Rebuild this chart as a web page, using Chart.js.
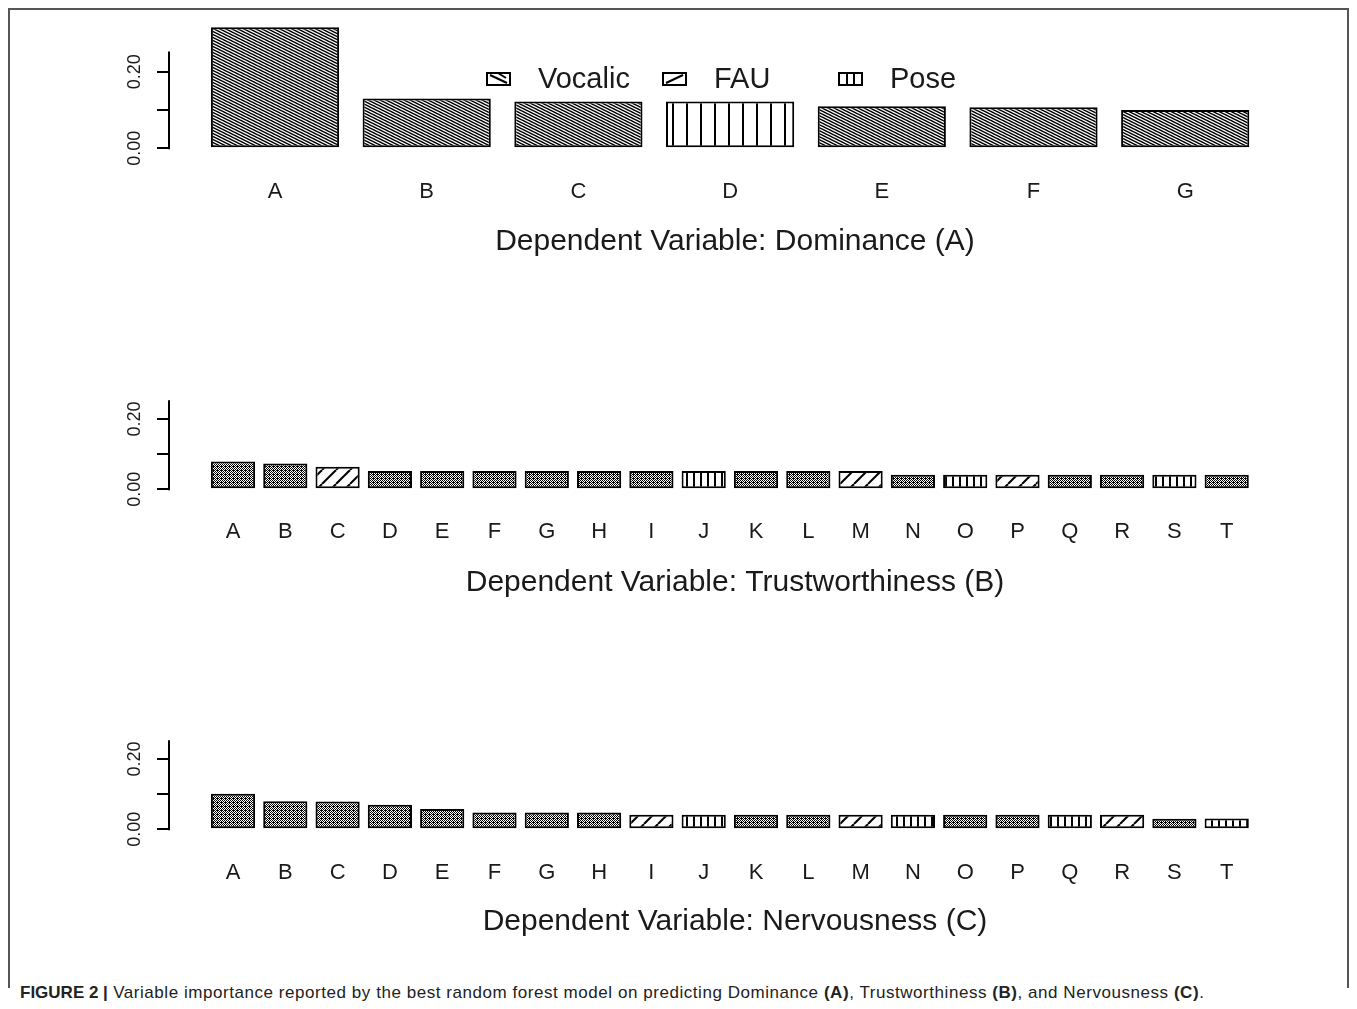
<!DOCTYPE html>
<html>
<head>
<meta charset="utf-8">
<script src="https://cdn.jsdelivr.net/npm/chart.js@4.4.0/dist/chart.umd.min.js"></script>
<style>
html,body{margin:0;padding:0;background:#fff;}
body{width:1357px;height:1009px;position:relative;overflow:hidden;font-family:"Liberation Sans",Arial,sans-serif;}
canvas{position:absolute;left:0;}
#frame{position:absolute;left:8px;top:8px;width:1341px;height:980px;border:2px solid #555;border-bottom:none;box-sizing:border-box;}
#caption{position:absolute;left:20px;top:983px;font-size:17px;line-height:20px;color:#222;white-space:nowrap;}
#caption span{letter-spacing:0.55px;}
</style>
</head>
<body>
<div id="frame"></div>
<canvas id="c1"></canvas>
<canvas id="c2"></canvas>
<canvas id="c3"></canvas>
<div id="caption"><b>FIGURE 2 |</b><span> Variable importance reported by the best random forest model on predicting Dominance <b>(A)</b>, Trustworthiness <b>(B)</b>, and Nervousness <b>(C)</b>.</span></div>
<script>
// ---------- data ----------
const legendLabels = ['Vocalic', 'FAU', 'Pose'];
const yTickValues = [0, 0.05, 0.10, 0.15, 0.20, 0.25];
const yTickLabels = ['0.00', '', '', '', '0.20', ''];

const catsA = ['A', 'B', 'C', 'D', 'E', 'F', 'G'];
const valsA = [0.316, 0.130, 0.122, 0.122, 0.110, 0.107, 0.100];
const groupsA = ['Vocalic', 'Vocalic', 'Vocalic', 'Pose', 'Vocalic', 'Vocalic', 'Vocalic'];
const titleA = 'Dependent Variable: Dominance (A)';

const catsB = ['A','B','C','D','E','F','G','H','I','J','K','L','M','N','O','P','Q','R','S','T'];
const valsB = [0.079, 0.073, 0.064, 0.052, 0.052, 0.052, 0.052, 0.052, 0.052, 0.052,
               0.052, 0.052, 0.052, 0.041, 0.041, 0.041, 0.041, 0.041, 0.041, 0.041];
const groupsB = ['Vocalic','Vocalic','FAU','Vocalic','Vocalic','Vocalic','Vocalic','Vocalic','Vocalic','Pose',
                 'Vocalic','Vocalic','FAU','Vocalic','Pose','FAU','Vocalic','Vocalic','Pose','Vocalic'];
const titleB = 'Dependent Variable: Trustworthiness (B)';

const catsC = ['A','B','C','D','E','F','G','H','I','J','K','L','M','N','O','P','Q','R','S','T'];
const valsC = [0.101, 0.080, 0.079, 0.070, 0.058, 0.048, 0.048, 0.048, 0.041, 0.041,
               0.041, 0.041, 0.041, 0.041, 0.041, 0.041, 0.041, 0.041, 0.030, 0.031];
const groupsC = ['Vocalic','Vocalic','Vocalic','Vocalic','Vocalic','Vocalic','Vocalic','Vocalic','FAU','Pose',
                 'Vocalic','Vocalic','FAU','Pose','Vocalic','Vocalic','Pose','FAU','Vocalic','Pose'];
const titleC = 'Dependent Variable: Nervousness (C)';

// ---------- styles / layout ----------
const TEXT = '#1a1a1a';
const FONT = '"Liberation Sans", Arial, Helvetica, sans-serif';
const W = 1357;
const AXIS_X = 170;
const AREA_RIGHT = 1300;
const TICK_FS = 22, TITLE_FS = 30, YTICK_FS = 18, LEGEND_FS = 29;
const TEXT_ADJ = 2;   // em-middle vs visual centre of glyphs

function hatch(kind, fine) {
  const c = document.createElement('canvas');
  const g = c.getContext('2d');
  if (kind === 'Vocalic') {
    if (!fine) {
      c.width = 6; c.height = 3;
      g.fillStyle = '#fff'; g.fillRect(0, 0, 6, 3);
      g.strokeStyle = '#000'; g.lineWidth = 1.5;
      for (let k = -3; k <= 3; k++) { g.beginPath(); g.moveTo(-6, 3 * k - 3); g.lineTo(12, 3 * k + 6); g.stroke(); }
    } else {
      c.width = 4; c.height = 4;
      g.fillStyle = '#fff'; g.fillRect(0, 0, 4, 4);
      g.fillStyle = '#000';
      for (let yy = 0; yy < 4; yy++) for (let xx = 0; xx < 4; xx++) {
        if ((xx + yy) % 2 === 0 || xx === yy) g.fillRect(xx, yy, 1, 1);
      }
      g.fillRect(1, 0, 1, 1);
    }
  } else if (kind === 'FAU') {
    const s = 14;
    c.width = s; c.height = s;
    g.fillStyle = '#fff'; g.fillRect(0, 0, s, s);
    g.strokeStyle = '#000'; g.lineWidth = 2;
    for (let k = -1; k <= 1; k++) { g.beginPath(); g.moveTo(k * s, s); g.lineTo(k * s + s, 0); g.stroke(); }
  } else {
    const s = fine ? 7 : 14;
    c.width = s; c.height = 1;
    g.fillStyle = '#fff'; g.fillRect(0, 0, s, 1);
    g.fillStyle = '#000'; g.fillRect(0, 0, 2, 1);
  }
  return g.createPattern(c, 'repeat');
}

const axisLinePlugin = {
  id: 'rAxis',
  afterDraw(chart) {
    const y = chart.scales.y, ctx = chart.ctx;
    ctx.save();
    ctx.strokeStyle = '#000'; ctx.lineWidth = 2;
    ctx.beginPath();
    ctx.moveTo(chart.chartArea.left - 1, y.getPixelForValue(yTickValues[0]) + 1);
    ctx.lineTo(chart.chartArea.left - 1, y.getPixelForValue(yTickValues[yTickValues.length - 1]) - 1);
    ctx.stroke();
    ctx.restore();
  }
};

const legendPlugin = {
  id: 'rLegend',
  afterDraw(chart, args, opts) {
    if (!opts || !opts.show) return;
    const ctx = chart.ctx;
    ctx.save();
    legendLabels.forEach((lab, i) => {
      const bx = opts.boxX[i], by = opts.y - 6, bw = 23, bh = 12;
      ctx.fillStyle = '#fff'; ctx.fillRect(bx, by, bw, bh);
      ctx.strokeStyle = '#000'; ctx.lineWidth = 2;
      ctx.beginPath();
      if (lab === 'Vocalic') { ctx.moveTo(bx + 3, by + 2); ctx.lineTo(bx + bw - 3, by + bh - 2); ctx.moveTo(bx + 11, by); ctx.lineTo(bx + 19, by + 5); }
      else if (lab === 'FAU') { ctx.moveTo(bx + 3, by + bh - 2); ctx.lineTo(bx + bw - 3, by + 2); }
      else { ctx.moveTo(bx + 8, by); ctx.lineTo(bx + 8, by + bh); ctx.moveTo(bx + 15, by); ctx.lineTo(bx + 15, by + bh); }
      ctx.stroke();
      ctx.strokeRect(bx, by, bw, bh);
      ctx.fillStyle = TEXT;
      ctx.font = LEGEND_FS + 'px ' + FONT;
      ctx.textBaseline = 'middle';
      ctx.textAlign = 'left';
      ctx.fillText(lab, bx + 51, opts.y + 1);
    });
    ctx.restore();
  }
};

function makeChart(id, cats, vals, groups, title, L) {
  const canvas = document.getElementById(id);
  const tickLH = TICK_FS * 1.2, titleLH = TITLE_FS * 1.2;
  const zeroC = L.zeroY - L.top;                 // zero line in canvas coords
  const labelY = L.labelY + TEXT_ADJ, titleY = L.titleY + TEXT_ADJ;
  const p1 = (labelY - L.zeroY) - tickLH / 2;
  // Chart.js reserves 2 x tick padding in the scale height
  const p2 = (titleY - L.zeroY) - 2 * p1 - tickLH - titleLH / 2;
  const pb = 4;
  const S = 2 * p1 + tickLH + p2 + titleLH + pb;
  const H = Math.round(zeroC + S);
  canvas.width = W; canvas.height = H;
  canvas.style.top = L.top + 'px';
  canvas.style.width = W + 'px'; canvas.style.height = H + 'px';
  const yMax = (L.zeroY - (L.top + L.padTop)) / L.unitPx;
  const xMin = -(L.firstX - AXIS_X) / L.catPx;
  const xMax = (AREA_RIGHT - L.firstX) / L.catPx;
  const pats = {};
  legendLabels.forEach(g => pats[g] = hatch(g, L.fine));

  return new Chart(canvas, {
    type: 'bar',
    data: {
      datasets: [{
        data: vals.map((v, i) => ({ x: i, y: v })),
        backgroundColor: groups.map(g => pats[g]),
        borderColor: '#000',
        borderWidth: 2,
        borderSkipped: false,
        categoryPercentage: 1,
        barPercentage: 0.845
      }]
    },
    options: {
      responsive: false,
      maintainAspectRatio: false,
      animation: false,
      events: [],
      devicePixelRatio: 1,
      layout: { autoPadding: false, padding: { left: 0, right: W - AREA_RIGHT, top: L.padTop, bottom: 0 } },
      plugins: {
        legend: { display: false },
        tooltip: { enabled: false },
        rLegend: L.legend || { show: false }
      },
      scales: {
        x: {
          type: 'linear',
          position: 'bottom',
          offset: false,
          min: xMin, max: xMax,
          bounds: 'data',
          grid: { display: false, drawTicks: false, offset: false },
          border: { display: false },
          afterBuildTicks: s => { s.ticks = cats.map((c, i) => ({ value: i })); },
          ticks: {
            autoSkip: false, maxRotation: 0, minRotation: 0,
            padding: p1,
            color: TEXT,
            font: { family: FONT, size: TICK_FS },
            callback: v => cats[v]
          },
          title: {
            display: true, text: title, color: TEXT,
            font: { family: FONT, size: TITLE_FS },
            padding: { top: p2, bottom: pb }
          }
        },
        y: {
          type: 'linear',
          position: 'left',
          min: 0, max: yMax,
          bounds: 'data',
          afterFit: s => { s.width = AXIS_X; },
          afterBuildTicks: s => { s.ticks = yTickValues.map(v => ({ value: v })); },
          grid: { display: true, drawOnChartArea: false, drawTicks: true, tickLength: 13, color: '#000', lineWidth: 2 },
          border: { display: false },
          ticks: {
            minRotation: 90, maxRotation: 90,
            crossAlign: 'center',
            padding: 4,
            color: TEXT,
            font: { family: FONT, size: YTICK_FS },
            callback: (v, i) => yTickLabels[i]
          }
        }
      }
    },
    plugins: [axisLinePlugin, legendPlugin]
  });
}

makeChart('c1', catsA, valsA, groupsA, titleA, {
  top: 0, padTop: 20, zeroY: 148.3, unitPx: 383, firstX: 275, catPx: 151.7,
  labelY: 190, titleY: 240, fine: false,
  legend: { show: true, y: 79, boxX: [487, 663, 839] }
});
makeChart('c2', catsB, valsB, groupsB, titleB, {
  top: 330, padTop: 0, zeroY: 489.3, unitPx: 388, firstX: 233, catPx: 52.3,
  labelY: 530, titleY: 581, fine: true
});
makeChart('c3', catsC, valsC, groupsC, titleC, {
  top: 670, padTop: 0, zeroY: 829.3, unitPx: 388, firstX: 233, catPx: 52.3,
  labelY: 871, titleY: 920, fine: true
});
</script>
</body>
</html>
